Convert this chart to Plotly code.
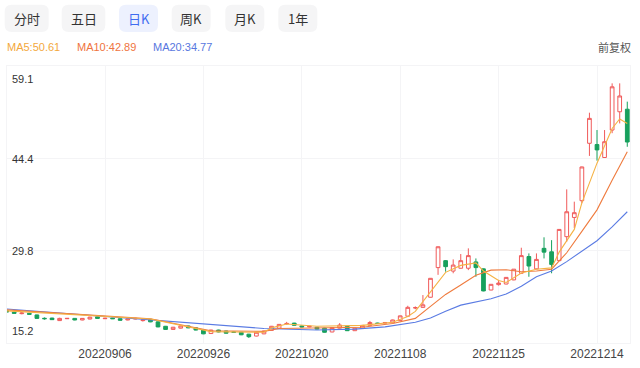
import plotly.graph_objects as go

# ---------------- data ----------------
dates = [
    "20220818", "20220819", "20220822", "20220823", "20220824", "20220825", "20220826", "20220829",
    "20220830", "20220831", "20220901", "20220902", "20220905", "20220906", "20220907", "20220908",
    "20220909", "20220913", "20220914", "20220915", "20220916", "20220919", "20220920", "20220921",
    "20220922", "20220923", "20220926", "20220927", "20220928", "20220929", "20220930", "20221010",
    "20221011", "20221012", "20221013", "20221014", "20221017", "20221018", "20221019", "20221020",
    "20221021", "20221024", "20221025", "20221026", "20221027", "20221028", "20221031", "20221101",
    "20221102", "20221103", "20221104", "20221107", "20221108", "20221109", "20221110", "20221111",
    "20221114", "20221115", "20221116", "20221117", "20221118", "20221121", "20221122", "20221123",
    "20221124", "20221125", "20221128", "20221129", "20221130", "20221201", "20221202", "20221205",
    "20221206", "20221207", "20221208", "20221209", "20221212", "20221213", "20221214", "20221215",
    "20221216", "20221219", "20221220",
]
opens = [
    20.35, 20.10, 19.85, 19.90, 19.65, 19.12, 19.15, 18.75, 19.05, 19.10,
    18.85, 19.00, 19.35, 19.05, 19.15, 19.05, 18.85, 19.00, 18.75, 18.95,
    18.55, 17.85, 17.35, 17.55, 17.90, 17.60, 17.25, 16.70, 17.25, 17.10,
    16.95, 16.90, 16.60, 16.30, 16.65, 17.20, 17.55, 18.25, 18.35, 17.90,
    17.75, 17.70, 17.55, 16.95, 17.55, 17.85, 17.15, 17.50, 18.00, 18.35,
    18.35, 18.40, 18.75, 19.45, 20.75, 20.85, 22.45, 27.15, 28.25, 26.60,
    27.05, 27.05, 28.05, 26.95, 23.60, 24.45, 24.55, 25.20, 26.25, 28.90,
    26.95, 30.20, 29.65, 28.25, 32.05, 35.10, 37.75, 46.85, 46.65, 44.60,
    48.95, 51.85, 52.25,
]
highs = [
    20.45, 20.15, 20.10, 19.95, 19.70, 19.25, 19.20, 19.20, 19.15, 19.15,
    19.15, 19.35, 19.40, 19.20, 19.20, 19.10, 19.05, 19.20, 19.05, 19.00,
    18.60, 17.90, 17.75, 17.95, 17.95, 17.65, 17.30, 17.30, 17.30, 17.15,
    17.05, 16.95, 16.65, 16.95, 17.15, 17.90, 18.20, 18.55, 18.40, 17.95,
    17.90, 17.75, 17.60, 17.70, 18.35, 17.90, 17.60, 18.05, 18.70, 18.40,
    18.50, 18.90, 19.55, 21.10, 21.00, 22.80, 25.50, 30.50, 28.35, 28.45,
    29.30, 30.20, 28.60, 27.00, 24.55, 25.20, 25.65, 26.90, 30.30, 29.40,
    29.40, 31.95, 31.50, 33.25, 39.55, 37.60, 43.15, 51.70, 48.95, 48.95,
    56.35, 56.35, 53.45,
]
lows = [
    20.05, 19.85, 19.75, 19.70, 19.05, 18.90, 18.85, 18.70, 19.00, 18.80,
    18.80, 18.95, 19.05, 19.00, 19.00, 18.75, 18.80, 18.95, 18.60, 18.50,
    17.70, 17.30, 17.30, 17.50, 17.55, 17.20, 16.60, 16.65, 16.90, 16.70,
    16.85, 16.45, 16.00, 16.25, 16.60, 17.15, 17.50, 18.10, 17.95, 17.70,
    17.70, 17.35, 16.85, 16.90, 17.50, 17.10, 17.10, 17.45, 17.95, 18.25,
    18.30, 18.35, 18.70, 19.40, 20.55, 20.80, 22.40, 26.00, 26.50, 26.25,
    27.00, 26.75, 25.70, 23.40, 23.55, 24.30, 24.50, 25.15, 26.20, 25.70,
    26.90, 28.60, 26.25, 28.20, 31.25, 33.40, 37.35, 44.85, 44.10, 44.55,
    48.45, 50.00, 46.30,
]
closes = [
    20.10, 19.90, 19.95, 19.75, 19.10, 19.05, 18.90, 19.10, 19.10, 18.85,
    19.10, 19.30, 19.10, 19.12, 19.05, 18.80, 19.00, 19.10, 18.85, 18.55,
    17.75, 17.35, 17.70, 17.90, 17.60, 17.25, 16.65, 17.25, 16.95, 16.75,
    16.90, 16.50, 16.20, 16.90, 17.10, 17.85, 18.15, 18.30, 18.00, 17.75,
    17.85, 17.40, 16.90, 17.65, 18.05, 17.15, 17.55, 18.00, 18.45, 18.30,
    18.45, 18.85, 19.50, 20.85, 20.80, 21.25, 25.45, 30.45, 27.30, 27.55,
    28.25, 29.05, 27.15, 23.45, 24.50, 24.70, 25.60, 26.90, 29.05, 27.40,
    28.45, 29.60, 27.65, 33.20, 36.00, 35.85, 43.10, 50.80, 45.80, 47.10,
    55.80, 54.35, 47.05,
]

# moving-average polylines (vertices)
ma5_dates = ["20220818", "20220915", "20220927", "20221013", "20221014", "20221018", "20221024",
             "20221101", "20221107", "20221109", "20221110", "20221114", "20221116", "20221118",
             "20221122", "20221123", "20221125", "20221128", "20221130", "20221202", "20221206",
             "20221207", "20221208", "20221209", "20221212", "20221214", "20221216", "20221219",
             "20221220"]
ma5_vals = [20.3, 19.0, 17.0, 16.9, 17.6, 18.2, 17.85,
            18.0, 18.5, 19.4, 20.2, 23.3, 26.4, 27.5,
            27.9, 26.6, 25.1, 24.8, 26.3, 26.9, 27.1,
            29.6, 31.4, 33.2, 37.4, 43.7, 49.2, 50.7,
            50.0]
ma10_dates = ["20220818", "20220915", "20220927", "20221013", "20221017", "20221024", "20221101",
              "20221107", "20221110", "20221114", "20221116", "20221118", "20221122", "20221124",
              "20221128", "20221130", "20221202", "20221206", "20221208", "20221212", "20221214",
              "20221216", "20221220"]
ma10_vals = [20.45, 19.05, 17.15, 17.05, 17.5, 17.6, 17.7,
             18.3, 19.1, 21.0, 22.9, 24.4, 25.95, 26.75,
             26.8, 26.5, 26.6, 26.9, 29.5, 32.9, 36.3,
             41.0, 45.5]
ma20_dates = ["20220818", "20221013", "20221024", "20221031", "20221104", "20221110", "20221114",
              "20221116", "20221118", "20221122", "20221124", "20221128", "20221130", "20221202",
              "20221206", "20221208", "20221212", "20221214", "20221216", "20221220"]
ma20_vals = [20.6, 17.5, 17.25, 17.4, 17.75, 18.5, 19.15,
             20.25, 21.2, 21.75, 22.2, 22.95, 24.2, 25.7,
             26.6, 28.1, 29.7, 31.4, 33.6, 36.0]

ma_labels = ["MA5:50.61", "MA10:42.89", "MA20:34.77"]
y_ticks = [59.1, 44.4, 29.8, 15.2]
x_tick_dates = ["20220906", "20220926", "20221020", "20221108", "20221125", "20221214"]
period_buttons = ["分时", "五日", "日K", "周K", "月K", "1年"]
selected_button = "日K"
adjust_label = "前复权"

# ---------------- layout helpers ----------------
W, H = 640, 368
ML, MR, MT, MB = 7, 10, 66, 25
PW, PH = W - ML - MR, H - MT - MB


def px(x):
    return (x - ML) / PW


def py(y):
    return (H - MB - y) / PH


RED = "#f05a5a"
GREEN = "#17a05d"
C_MA5 = "#f5b244"
C_MA10 = "#ef7b3e"
C_MA20 = "#5a7be3"
LEG_COLORS = ["#f3a83c", "#ef7440", "#5877e0"]
GRID = "#f4f4f6"
CJK = "Noto Sans CJK SC"
LAT = "Liberation Sans, Arial, sans-serif"

fig = go.Figure()
fig.add_trace(go.Candlestick(
    x=dates, open=opens, high=highs, low=lows, close=closes,
    increasing=dict(line=dict(color=RED, width=1), fillcolor="#ffffff"),
    decreasing=dict(line=dict(color=GREEN, width=1), fillcolor=GREEN),
    whiskerwidth=0, hoverinfo="skip", showlegend=False,
))
for xs, ys, col in [(ma20_dates, ma20_vals, C_MA20), (ma10_dates, ma10_vals, C_MA10),
                    (ma5_dates, ma5_vals, C_MA5)]:
    fig.add_trace(go.Scatter(x=xs, y=ys, mode="lines", line=dict(color=col, width=1.1),
                             connectgaps=True, hoverinfo="skip", showlegend=False))

shapes = []
annotations = []

# period buttons
btn_geom = [(4.7, 48.7), (61.7, 105.3), (119.0, 158.0), (171.7, 210.7), (225.3, 264.3), (278.3, 317.3)]
by0, by1 = 4.7, 32.0
r = 7.0
for label, (bx0, bx1) in zip(period_buttons, btn_geom):
    sel = label == selected_button
    x0, x1 = px(bx0), px(bx1)
    yb, yt = py(by1), py(by0)
    rx, ry = r / PW, r / PH
    path = (f"M {x0+rx},{yb} L {x1-rx},{yb} Q {x1},{yb} {x1},{yb+ry} "
            f"L {x1},{yt-ry} Q {x1},{yt} {x1-rx},{yt} L {x0+rx},{yt} "
            f"Q {x0},{yt} {x0},{yt-ry} L {x0},{yb+ry} Q {x0},{yb} {x0+rx},{yb} Z")
    shapes.append(dict(type="path", path=path, xref="paper", yref="paper",
                       fillcolor="#edf1fe" if sel else "#f5f5f6", line=dict(width=0), layer="below"))
    annotations.append(dict(x=px((bx0 + bx1) / 2), y=py((by0 + by1) / 2), xref="paper", yref="paper",
                            text=label, showarrow=False, xanchor="center", yanchor="middle",
                            font=dict(family=CJK, size=13, color="#3f6cf0" if sel else "#333333")))

# MA legend texts
leg_x = [5, 75, 151]
for t, c, lx in zip(ma_labels, LEG_COLORS, leg_x):
    annotations.append(dict(x=px(lx), y=py(47), xref="paper", yref="paper", text=t, showarrow=False,
                            xanchor="left", yanchor="middle", font=dict(family=LAT, size=11, color=c)))
annotations.append(dict(x=px(633), y=py(47), xref="paper", yref="paper", text=adjust_label,
                        showarrow=False, xanchor="right", yanchor="middle",
                        font=dict(family=CJK, size=11, color="#555555")))

# y tick labels inside plot
yshifts = [-13, 0, 0, 12]
for v, s in zip(y_ticks, yshifts):
    annotations.append(dict(x=px(10), y=v, xref="paper", yref="y", text=f"{v:.1f}", showarrow=False,
                            xanchor="left", yanchor="middle", yshift=s,
                            font=dict(family=LAT, size=11, color="#333333")))

fig.update_layout(
    width=W, height=H, margin=dict(l=ML, r=MR, t=MT, b=MB),
    paper_bgcolor="white", plot_bgcolor="white",
    shapes=shapes, annotations=annotations, showlegend=False,
    xaxis=dict(type="category", categoryorder="array", categoryarray=dates,
               range=[0.05, 82.36], rangeslider=dict(visible=False),
               tickmode="array", tickvals=x_tick_dates, ticktext=x_tick_dates,
               showgrid=True, gridcolor=GRID, gridwidth=1, ticks="",
               showline=True, linecolor=GRID, mirror=True, zeroline=False,
               tickfont=dict(family=LAT, size=12, color="#444444"), fixedrange=True),
    yaxis=dict(range=[15.2, 59.1], tickmode="array", tickvals=y_ticks, showticklabels=False,
               showgrid=True, gridcolor=GRID, gridwidth=1, ticks="",
               showline=True, linecolor=GRID, mirror=True, zeroline=False, fixedrange=True),
)

fig.write_html("out.html", config={"displayModeBar": False},
               post_script="document.body.style.margin='0';document.body.style.padding='0';")
